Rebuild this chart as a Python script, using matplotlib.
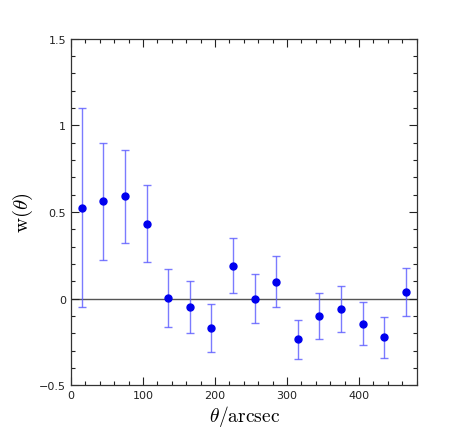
import matplotlib
matplotlib.use('Agg')
import matplotlib.pyplot as plt
from matplotlib.ticker import MultipleLocator

plt.rcParams['mathtext.fontset'] = 'cm'

# angular bins (arcsec) and correlation values
theta   = [15, 45, 75, 105, 135, 165, 195, 225, 255, 285, 315, 345, 375, 405, 435, 465]
w       = [0.523, 0.562, 0.590, 0.431, 0.004, -0.048, -0.171, 0.190, 0.000, 0.098,
           -0.235, -0.102, -0.062, -0.144, -0.221, 0.037]
w_hi    = [1.098, 0.900, 0.856, 0.654, 0.171, 0.104, -0.033, 0.350, 0.144, 0.244,
           -0.121, 0.031, 0.071, -0.019, -0.104, 0.175]
w_lo    = [-0.050, 0.221, 0.320, 0.210, -0.162, -0.198, -0.306, 0.031, -0.142, -0.050,
           -0.348, -0.233, -0.194, -0.269, -0.340, -0.102]

err_lo = [a - b for a, b in zip(w, w_lo)]
err_hi = [b - a for a, b in zip(w, w_hi)]

fig = plt.figure(figsize=(4.57, 4.35), dpi=100)
ax = fig.add_axes([0.1554, 0.112, 0.7576, 0.797])

ax.axhline(0, color='#555555', lw=1.0, zorder=1)
ax.errorbar(theta, w, yerr=[err_lo, err_hi], fmt='none', ecolor='#5a5aff',
            elinewidth=1.0, capsize=3, capthick=1.0, alpha=0.8, zorder=2)
ax.plot(theta, w, 'o', color='#0000ee', ms=5, zorder=3)

ax.set_xlim(0, 481)
ax.set_ylim(-0.5, 1.5)
ax.xaxis.set_major_locator(MultipleLocator(100))
ax.xaxis.set_minor_locator(MultipleLocator(20))
ax.yaxis.set_major_locator(MultipleLocator(0.5))
ax.yaxis.set_minor_locator(MultipleLocator(0.1))
ax.yaxis.set_major_formatter(plt.FuncFormatter(
    lambda v, p: '0' if abs(v) < 1e-9 else ('%g' % v).replace('-', '\u2212')))
ax.tick_params(which='both', direction='in', top=True, right=True,
               labelsize=8, colors='#222222')
ax.tick_params(which='major', length=6, width=0.8)
ax.tick_params(which='minor', length=3, width=0.8)
for s in ax.spines.values():
    s.set_linewidth(0.9)
    s.set_color('#333333')

ax.set_xlabel(r'$\theta/\mathrm{arcsec}$', fontsize=14, labelpad=2)
ax.set_ylabel(r'$\mathrm{w}(\theta)$', fontsize=15, labelpad=3)

fig.savefig('out.png', dpi=100)
